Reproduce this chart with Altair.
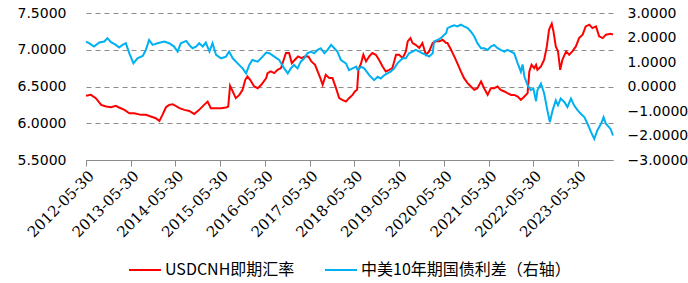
import altair as alt
import pandas as pd

RED_NAME = "USDCNH即期汇率"
BLUE_NAME = "中美10年期国债利差（右轴）"

# decimal-year positions and values
red_years = [2012.41, 2012.52, 2012.63, 2012.75, 2012.86, 2012.97, 2013.08, 2013.15, 2013.27, 2013.38,
             2013.49, 2013.64, 2013.75, 2013.86, 2013.97, 2014.05, 2014.12, 2014.20, 2014.27, 2014.35,
             2014.50, 2014.61, 2014.72, 2014.83, 2014.94, 2015.05, 2015.13, 2015.20, 2015.32, 2015.43,
             2015.54, 2015.59, 2015.63, 2015.69, 2015.76, 2015.84, 2015.91, 2015.97, 2016.02, 2016.08,
             2016.17, 2016.25, 2016.33, 2016.44, 2016.47, 2016.54, 2016.62, 2016.69, 2016.77, 2016.83,
             2016.88, 2016.95, 2017.01, 2017.08, 2017.15, 2017.23, 2017.30, 2017.38, 2017.45, 2017.53,
             2017.59, 2017.65, 2017.70, 2017.77, 2017.85, 2017.92, 2018.00, 2018.07, 2018.14, 2018.22,
             2018.29, 2018.37, 2018.42, 2018.47, 2018.50, 2018.56, 2018.61, 2018.67, 2018.74, 2018.81,
             2018.89, 2018.96, 2019.04, 2019.11, 2019.19, 2019.26, 2019.34, 2019.41, 2019.49, 2019.56,
             2019.60, 2019.66, 2019.71, 2019.78, 2019.86, 2019.93, 2020.01, 2020.08, 2020.16, 2020.23,
             2020.31, 2020.38, 2020.46, 2020.49, 2020.57, 2020.64, 2020.71, 2020.79, 2020.86, 2020.94,
             2021.01, 2021.09, 2021.16, 2021.24, 2021.31, 2021.39, 2021.46, 2021.53, 2021.61, 2021.68,
             2021.76, 2021.83, 2021.91, 2021.98, 2022.06, 2022.13, 2022.21, 2022.28, 2022.32, 2022.37,
             2022.43, 2022.47, 2022.50, 2022.58, 2022.65, 2022.71, 2022.76, 2022.82, 2022.86, 2022.91,
             2022.96, 2023.01, 2023.06, 2023.14, 2023.21, 2023.28, 2023.36, 2023.43, 2023.51, 2023.58,
             2023.66, 2023.73, 2023.81, 2023.88, 2023.96, 2024.03, 2024.14, 2024.19]
red_vals = [6.373, 6.386, 6.341, 6.250, 6.227, 6.218, 6.236, 6.214, 6.182, 6.136,
            6.136, 6.114, 6.114, 6.091, 6.068, 6.032, 6.114, 6.218, 6.250, 6.259,
            6.205, 6.182, 6.168, 6.127, 6.182, 6.250, 6.295, 6.205, 6.205, 6.205,
            6.214, 6.227, 6.509, 6.432, 6.341, 6.386, 6.455, 6.591, 6.636, 6.591,
            6.500, 6.477, 6.523, 6.614, 6.682, 6.705, 6.682, 6.727, 6.750, 6.864,
            6.955, 6.955, 6.818, 6.864, 6.909, 6.886, 6.909, 6.909, 6.841, 6.795,
            6.705, 6.614, 6.523, 6.659, 6.614, 6.614, 6.477, 6.341, 6.318, 6.295,
            6.341, 6.386, 6.432, 6.455, 6.727, 6.818, 6.932, 6.841, 6.909, 6.955,
            6.932, 6.864, 6.773, 6.705, 6.727, 6.750, 6.932, 6.932, 6.886, 6.977,
            7.114, 7.159, 7.091, 7.068, 7.023, 7.091, 6.932, 6.977, 7.091, 7.114,
            7.114, 7.136, 7.091, 7.091, 7.000, 6.909, 6.818, 6.705, 6.614, 6.545,
            6.500, 6.455, 6.477, 6.568, 6.477, 6.386, 6.477, 6.477, 6.500, 6.455,
            6.432, 6.409, 6.386, 6.386, 6.364, 6.318, 6.364, 6.409, 6.705, 6.795,
            6.750, 6.795, 6.727, 6.773, 6.864, 7.045, 7.273, 7.355, 7.250, 7.045,
            6.977, 6.727, 6.864, 6.977, 6.932, 6.977, 7.045, 7.159, 7.205, 7.318,
            7.341, 7.295, 7.318, 7.182, 7.159, 7.205, 7.218, 7.205]

blue_years = [2012.41, 2012.48, 2012.59, 2012.71, 2012.82, 2012.89, 2012.97, 2013.08, 2013.15, 2013.23,
              2013.30, 2013.38, 2013.47, 2013.56, 2013.68, 2013.75, 2013.82, 2013.90, 2014.01, 2014.16,
              2014.27, 2014.38, 2014.46, 2014.53, 2014.65, 2014.72, 2014.79, 2014.87, 2014.94, 2015.02,
              2015.09, 2015.17, 2015.24, 2015.32, 2015.43, 2015.54, 2015.61, 2015.69, 2015.80, 2015.91,
              2015.99, 2016.06, 2016.13, 2016.25, 2016.36, 2016.44, 2016.51, 2016.62, 2016.73, 2016.84,
              2016.92, 2016.99, 2017.06, 2017.14, 2017.21, 2017.29, 2017.36, 2017.44, 2017.51, 2017.59,
              2017.66, 2017.74, 2017.81, 2017.89, 2017.96, 2018.03, 2018.11, 2018.22, 2018.29, 2018.37,
              2018.45, 2018.48, 2018.56, 2018.63, 2018.74, 2018.85, 2018.93, 2019.00, 2019.08, 2019.15,
              2019.22, 2019.30, 2019.37, 2019.49, 2019.56, 2019.63, 2019.71, 2019.78, 2019.86, 2019.93,
              2020.01, 2020.08, 2020.16, 2020.19, 2020.27, 2020.34, 2020.42, 2020.46, 2020.49, 2020.57,
              2020.64, 2020.71, 2020.79, 2020.86, 2020.94, 2021.01, 2021.09, 2021.16, 2021.24, 2021.31,
              2021.39, 2021.46, 2021.53, 2021.61, 2021.68, 2021.76, 2021.83, 2021.91, 2021.98, 2022.06,
              2022.13, 2022.17, 2022.21, 2022.28, 2022.35, 2022.41, 2022.47, 2022.50, 2022.58, 2022.65,
              2022.73, 2022.78, 2022.84, 2022.91, 2022.96, 2023.02, 2023.10, 2023.17, 2023.25, 2023.32,
              2023.40, 2023.47, 2023.55, 2023.62, 2023.70, 2023.77, 2023.84, 2023.92, 2023.98, 2024.03,
              2024.10, 2024.14, 2024.19]
blue_vals = [1.836, 1.767, 1.630, 1.795, 1.836, 1.973, 1.808, 1.699, 1.589, 1.699,
             1.767, 1.356, 0.945, 1.151, 1.247, 1.493, 1.904, 1.699, 1.767, 1.836,
             1.767, 1.630, 1.425, 1.767, 1.863, 1.699, 1.562, 1.630, 1.767, 1.630,
             1.795, 1.425, 1.767, 1.288, 1.151, 1.219, 1.425, 1.151, 0.945, 0.740,
             0.534, 0.877, 1.082, 1.014, 1.219, 1.384, 1.356, 1.219, 1.082, 0.740,
             0.534, 0.740, 0.877, 0.740, 1.014, 1.151, 1.356, 1.425, 1.356, 1.493,
             1.562, 1.356, 1.493, 1.699, 1.562, 1.425, 1.082, 0.945, 0.671, 0.740,
             0.808, 0.671, 0.808, 0.740, 0.466, 0.260, 0.397, 0.329, 0.466, 0.534,
             0.603, 0.740, 0.945, 1.151, 1.151, 1.356, 1.425, 1.493, 1.425, 1.356,
             1.288, 1.219, 1.356, 1.836, 1.904, 1.973, 2.110, 2.178, 2.384, 2.452,
             2.493, 2.452, 2.521, 2.452, 2.384, 2.247, 2.041, 1.767, 1.562, 1.562,
             1.493, 1.630, 1.699, 1.562, 1.493, 1.425, 1.493, 1.425, 1.356, 0.945,
             0.603, 0.900, 0.397, 0.055, -0.151, -0.082, -0.600, -0.151, 0.123, -0.288,
             -1.041, -1.452, -0.973, -0.562, -0.767, -0.493, -0.630, -0.836, -0.493, -0.767,
             -0.973, -1.110, -1.247, -1.521, -1.863, -2.137, -1.795, -1.521, -1.247, -1.521,
             -1.658, -1.750, -2.000]

left_ticks = [5.5, 6.0, 6.5, 7.0, 7.5]
right_ticks = [-3, -2, -1, 0, 1, 2, 3]
tick_years = list(range(2012, 2024))

ORIGIN = pd.Timestamp("2012-05-30")


def to_date(y):
    return (ORIGIN + pd.Timedelta(days=(y - 2012.41) * 365.25)).strftime("%Y-%m-%d")


red_df = pd.DataFrame({"date": [to_date(y) for y in red_years], "value": red_vals, "series": RED_NAME})
blue_df = pd.DataFrame({"date": [to_date(y) for y in blue_years], "value": blue_vals, "series": BLUE_NAME})

end = pd.Timestamp(to_date(2024.19))
x_scale = alt.Scale(
    type="utc",
    domain=[alt.DateTime(year=2012, month=5, date=30, utc=True),
            alt.DateTime(year=end.year, month=end.month, date=end.day, utc=True)],
)
x_axis = alt.Axis(
    values=[alt.DateTime(year=y, month=5, date=30, utc=True) for y in tick_years],
    labelExpr="utcFormat(datum.value, '%Y-%m-%d')",
    labelAngle=-45, labelFont="DejaVu Serif", labelFontSize=15, labelColor="#000000",
    domainColor="#8c8c8c", tickColor="#8c8c8c", tickSize=6, grid=False, title=None,
    labelPadding=2, labelOverlap=False,
)

color = alt.Color(
    "series:N",
    scale=alt.Scale(domain=[RED_NAME, BLUE_NAME], range=["#FF0000", "#00B0F0"]),
    legend=alt.Legend(
        orient="none", legendX=42, legendY=240, direction="horizontal", title=None,
        symbolType="stroke", symbolStrokeWidth=2, symbolSize=1024, labelFontSize=16,
        labelFont="Noto Sans CJK SC", labelColor="#000000", columnPadding=26, labelOffset=3,
        labelLimit=0, padding=0,
    ),
)

left = alt.Chart(red_df).mark_line(strokeWidth=2).encode(
    x=alt.X("date:T", scale=x_scale, axis=x_axis),
    y=alt.Y("value:Q", scale=alt.Scale(domain=[5.5, 7.5], nice=False, zero=False),
            axis=alt.Axis(values=left_ticks, format=".4f", grid=True, gridDash=[5, 4],
                          gridColor="#8c8c8c", domain=False, ticks=False, labelPadding=20,
                          title=None, labelFont="DejaVu Sans", labelFontSize=14,
                          labelColor="#000000")),
    color=color,
)

right = alt.Chart(blue_df).mark_line(strokeWidth=2).encode(
    x=alt.X("date:T", scale=x_scale, axis=x_axis),
    y=alt.Y("value:Q", scale=alt.Scale(domain=[-3, 3], nice=False, zero=False),
            axis=alt.Axis(orient="right", values=right_ticks, format=".4f", grid=False,
                          domain=False, ticks=False, labelPadding=14, title=None,
                          labelFont="DejaVu Sans", labelFontSize=14, labelColor="#000000")),
    color=color,
)

chart = alt.layer(left, right).resolve_scale(y="independent").properties(
    width=527, height=147,
    autosize=alt.AutoSizeParams(type="none"),
    padding={"left": 86, "top": 13, "right": 75, "bottom": 123},
    background="white",
).configure_view(stroke=None)

chart.save("out.html", embed_options={"renderer": "svg", "actions": False})
